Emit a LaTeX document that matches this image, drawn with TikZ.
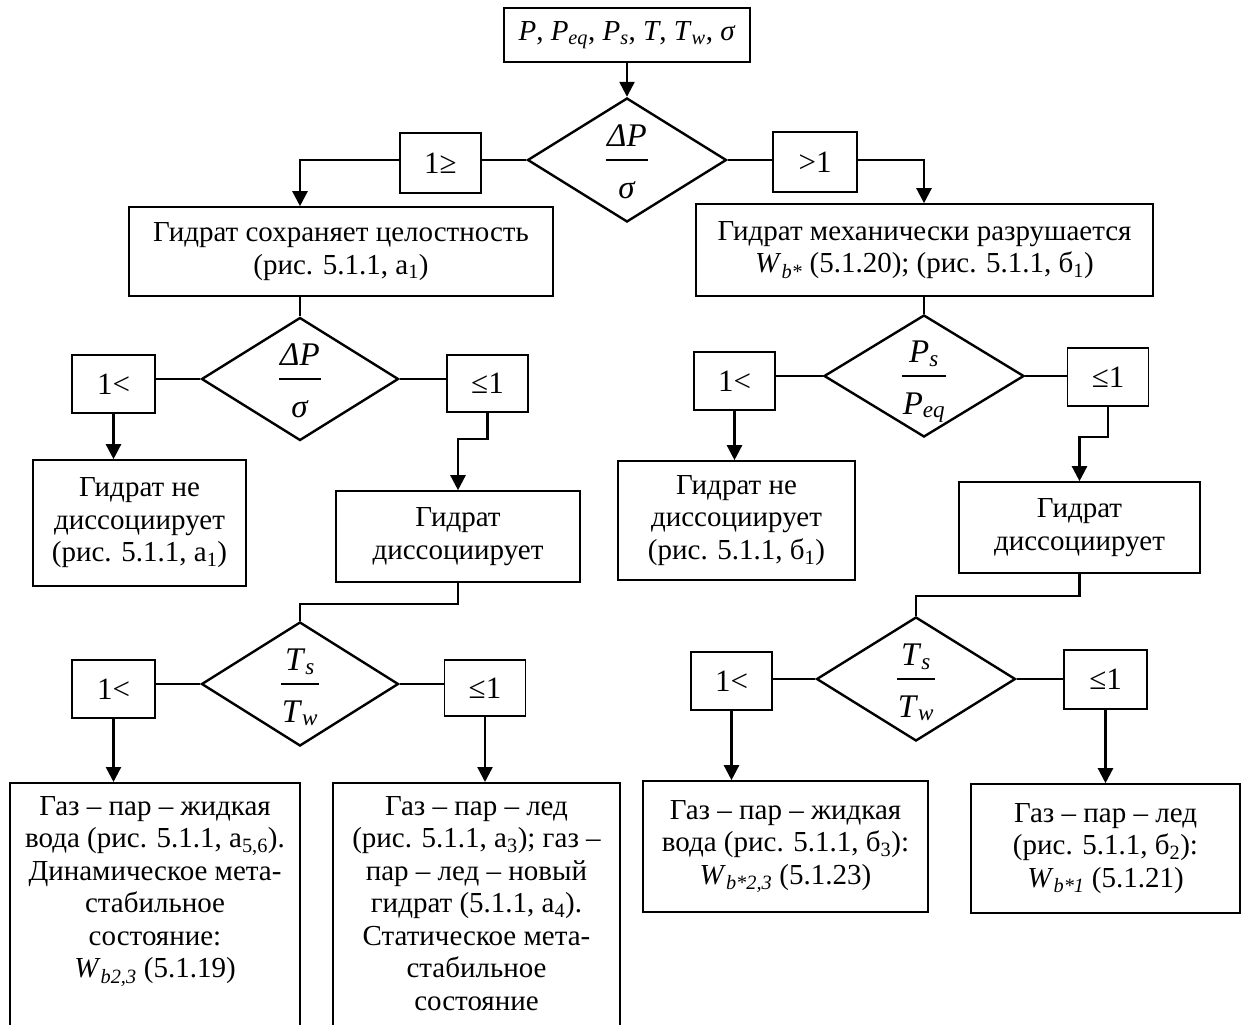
\documentclass[tikz,border=0pt]{standalone}
\usepackage{fontspec}
\setmainfont{Liberation Serif}
\usetikzlibrary{shapes.geometric,arrows.meta,calc}

% stacked fraction for the decision diamonds
\newcommand{\frx}[2]{\setlength{\arrayrulewidth}{1.6pt}%
  \begin{tabular}{@{\hspace{1pt}}c@{\hspace{1pt}}}\rule[-13pt]{0pt}{14pt}#1\\\hline\rule{0pt}{37pt}#2\end{tabular}}
\newcommand{\sbs}[1]{\textsubscript{#1}}

\begin{document}
\begin{tikzpicture}[x=1pt,y=-1pt,
  every node/.style={font=\fontsize{29}{32.5}\selectfont},
  box/.style={draw, line width=1.6pt, inner sep=0pt, align=center},
  lbl/.style={draw, line width=1.6pt, inner sep=0pt, font=\fontsize{31}{34}\selectfont},
  dia/.style={draw, diamond, line width=2.4pt, inner sep=0pt},
  frc/.style={inner sep=0pt, font=\fontsize{33}{36}\selectfont},
  ln/.style={line width=2.4pt},
  arr/.style={line width=2.4pt, -{Triangle[length=15pt,width=15pt]}}
]
\useasboundingbox (0,0) rectangle (1248,1025);
\clip (0,0) rectangle (1248,1025);

% ---- input and first decision
\node[box, minimum width=246, minimum height=54] (top) at (627,35)
  {\textit{P}, \textit{P}\sbs{\textit{eq}}, \textit{P}\sbs{\textit{s}}, \textit{T}, \textit{T}\sbs{\textit{w}}, \textit{σ}};
\node[dia, minimum width=199, minimum height=124] (d1) at (627,160) {};
\node[frc] (d1t) at ($(d1)+(0,5)$) {\frx{\textit{ΔP}}{\textit{σ}}};
\node[lbl, minimum width=81, minimum height=60] (l1) at (440.5,163) {1≥};
\node[lbl, minimum width=84, minimum height=60] (r1) at (815,162) {>1};

\node[box, minimum width=424, minimum height=89] (b2L) at (341,251.5)
  {Гидрат сохраняет целостность\\(рис. 5.1.1, а\sbs{1})};
\node[box, minimum width=457, minimum height=92] (b2R) at (924.5,250)
  {Гидрат механически разрушается\\\textit{W}\sbs{\textit{b*}} (5.1.20); (рис. 5.1.1, б\sbs{1})};

% ---- left branch
\node[dia, minimum width=197, minimum height=123] (d2L) at (300,379) {};
\node[frc] (d2Lt) at ($(d2L)+(0,5)$) {\frx{\textit{ΔP}}{\textit{σ}}};
\node[lbl, minimum width=83, minimum height=58] (l2L) at (113.5,384) {1<};
\node[lbl, minimum width=81, minimum height=57] (r2L) at (487.5,383.5) {≤1};
\node[box, minimum width=213, minimum height=126] (b3LL) at (139.5,523)
  {Гидрат не\\диссоциирует\\(рис. 5.1.1, а\sbs{1})};
\node[box, minimum width=244, minimum height=91] (b3LR) at (458,536.5)
  {Гидрат\\диссоциирует};

\node[dia, minimum width=197, minimum height=124] (d3L) at (300,684) {};
\node[frc] (d3Lt) at ($(d3L)+(0,5)$) {\frx{\textit{T}\sbs{\textit{s}}}{\textit{T}\sbs{\textit{w}}}};
\node[lbl, minimum width=83, minimum height=58] (l3L) at (113.5,689) {1<};
\node[lbl, minimum width=81, minimum height=56] (r3L) at (485,688) {≤1};

\node[box, minimum width=290, minimum height=280, anchor=north] (b4LL) at (155,782) {};
\node[anchor=north, inner sep=0pt, align=center] (t4LL) at (155,796)
  {Газ – пар – жидкая\\вода (рис. 5.1.1, а\sbs{5,6}).\\Динамическое мета-\\стабильное\\состояние:\\\textit{W}\sbs{\textit{b2,3}} (5.1.19)};
\node[box, minimum width=287, minimum height=280, anchor=north] (b4LR) at (476.5,782) {};
\node[anchor=north, inner sep=0pt, align=center] (t4LR) at (476.5,796)
  {Газ – пар – лед\\(рис. 5.1.1, а\sbs{3}); газ –\\пар – лед – новый\\гидрат (5.1.1, а\sbs{4}).\\Статическое мета-\\стабильное\\состояние};

% ---- right branch
\node[dia, minimum width=200, minimum height=122] (d2R) at (924,376) {};
\node[frc] (d2Rt) at ($(d2R)+(0,5)$) {\frx{\textit{P}\sbs{\textit{s}}}{\textit{P}\sbs{\textit{eq}}}};
\node[lbl, minimum width=81, minimum height=58] (l2R) at (734.5,381) {1<};
\node[lbl, minimum width=81, minimum height=58] (r2R) at (1108,377) {≤1};
\node[box, minimum width=237, minimum height=119] (b3RL) at (736.5,520.5)
  {Гидрат не\\диссоциирует\\(рис. 5.1.1, б\sbs{1})};
\node[box, minimum width=241, minimum height=91] (b3RR) at (1079.5,527.5)
  {Гидрат\\диссоциирует};

\node[dia, minimum width=199, minimum height=124] (d3R) at (916,679) {};
\node[frc] (d3Rt) at ($(d3R)+(0,5)$) {\frx{\textit{T}\sbs{\textit{s}}}{\textit{T}\sbs{\textit{w}}}};
\node[lbl, minimum width=81, minimum height=58] (l3R) at (731.5,681) {1<};
\node[lbl, minimum width=83, minimum height=59] (r3R) at (1105.5,679.5) {≤1};
\node[box, minimum width=285, minimum height=131] (b4RL) at (785.5,846.5)
  {Газ – пар – жидкая\\вода (рис. 5.1.1, б\sbs{3}):\\\textit{W}\sbs{\textit{b*2,3}} (5.1.23)};
\node[box, minimum width=269, minimum height=129] (b4RR) at (1105.5,848.5)
  {Газ – пар – лед\\(рис. 5.1.1, б\sbs{2}):\\\textit{W}\sbs{\textit{b*1}} (5.1.21)};

% ---- connectors
\draw[arr] (top.south) -- (d1.north);
\draw[ln] (d1.west) -- (d1.west -| l1.east);
\draw[arr] (l1.west |- d1.west) -| (d2L |- b2L.north);
\draw[ln] (d1.east) -- (d1.east -| r1.west);
\draw[arr] (r1.east |- d1.east) -| (d2R |- b2R.north);

\draw[ln] (d2L |- b2L.south) -- (d2L.north);
\draw[ln] (d2L.west) -- (d2L.west -| l2L.east);
\draw[arr] (l2L.south) -- (l2L.south |- b3LL.north);
\draw[ln] (d2L.east) -- (d2L.east -| r2L.west);
\draw[arr] (r2L.south) -- ++(0,26) -| (b3LR.north);
\draw[ln] (b3LR.south) -- ++(0,21) -| (d3L.north);
\draw[ln] (d3L.west) -- (d3L.west -| l3L.east);
\draw[arr] (l3L.south) -- (l3L.south |- b4LL.north);
\draw[ln] (d3L.east) -- (d3L.east -| r3L.west);
\draw[arr] (r3L.south) -- (r3L.south |- b4LR.north);

\draw[ln] (d2R |- b2R.south) -- (d2R.north);
\draw[ln] (d2R.west) -- (d2R.west -| l2R.east);
\draw[arr] (l2R.south) -- (l2R.south |- b3RL.north);
\draw[ln] (d2R.east) -- (d2R.east -| r2R.west);
\draw[arr] (r2R.south) -- ++(0,30) -| (b3RR.north);
\draw[ln] (b3RR.south) -- ++(0,22) -| (d3R.north);
\draw[ln] (d3R.west) -- (d3R.west -| l3R.east);
\draw[arr] (l3R.south) -- (l3R.south |- b4RL.north);
\draw[ln] (d3R.east) -- (d3R.east -| r3R.west);
\draw[arr] (r3R.south) -- (r3R.south |- b4RR.north);
\end{tikzpicture}
\end{document}
